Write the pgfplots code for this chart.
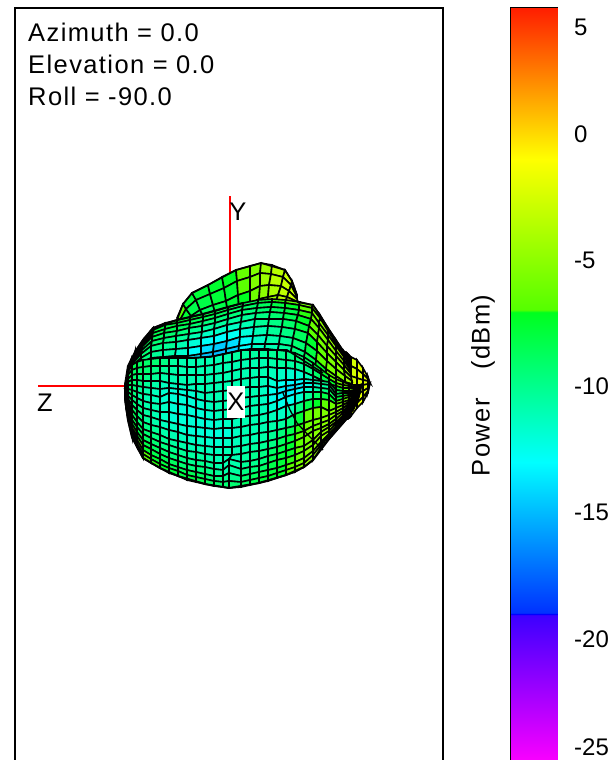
\documentclass[border=0pt]{standalone}
\usepackage{fontspec}
\setmainfont{Liberation Sans}
\usepackage{pgfplots}
\pgfplotsset{compat=1.18}
\newcommand{\lab}{\fontsize{24}{28}\selectfont}
\newcommand{\labs}{\fontsize{25.5}{30}\selectfont\addfontfeature{LetterSpace=5.5}}
\pgfplotsset{
  colormap={ant}{rgb255(0pt)=(255,0,255) rgb255(5.95pt)=(60,0,255) rgb255(6pt)=(0,0,255) rgb255(6.05pt)=(0,50,255) rgb255(12pt)=(0,255,255) rgb255(17.95pt)=(0,255,30) rgb255(18.05pt)=(85,255,0) rgb255(24pt)=(255,255,0) rgb255(30pt)=(255,30,0)},
  pat/.style={surf, shader=faceted, faceted color=black, line width=1.6pt, point meta=explicit},
}
\begin{document}
\begin{tikzpicture}[x=1pt,y=1pt]
\path[use as bounding box] (0,0) rectangle (613,-760);
\begin{axis}[
  at={(15pt,-8pt)}, anchor=north west,
  scale only axis, width=428pt, height=792pt,
  xmin=15, xmax=443, ymin=8, ymax=800, y dir=reverse,
  ticks=none, axis line style={line width=1.4pt},
  colormap name=ant, point meta min=-25, point meta max=5,
]
% red axes
\addplot[red, line width=1.2pt] coordinates {(230,196) (230,275)};
\addplot[red, line width=1.2pt] coordinates {(38,386) (130,386)};
% lobe at the top, behind the body
\addplot[pat, mesh/cols=12] table[row sep=\\, meta=c] {x y c\\
177 318 -6.5\\ 183 304 -6.5\\ 192 293 -8\\ 208 285 -7.5\\ 222 277 -7.5\\ 236 270 -6\\ 250 266 -6\\ 261 263 -5\\ 272 265 -4\\ 285 270 -3\\ 292 281 -3\\ 297 295 -3\\
180 320 -6.5\\ 186 309 -8\\ 196 300 -8\\ 210 294 -7.5\\ 224 288 -7.5\\ 237 281 -7.5\\ 250 277 -6\\ 260 273 -5\\ 271 274 -4\\ 283 277 -3\\ 291 285 -3\\ 297 297 -3\\
183 323 -8\\ 191 316 -8\\ 200 310 -9\\ 213 305 -8\\ 226 301 -8\\ 238 295 -7.5\\ 250 291 -6\\ 260 286 -5\\ 269 285 -4\\ 281 286 -3\\ 289 291 -3\\ 297 299 -3\\
186 326 -8\\ 195 322 -8\\ 205 319 -9\\ 216 316 -9\\ 228 313 -8\\ 239 309 -7.5\\ 250 304 -7.5\\ 259 299 -6\\ 268 297 -5\\ 278 295 -4\\ 287 297 -3\\ 298 302 -3\\
190 330 -8\\ 200 330 -8\\ 210 330 -9\\ 220 330 -9\\ 230 330 -8\\ 240 325 -7.5\\ 250 320 -7.5\\ 258 315 -6\\ 266 310 -5\\ 275 305 -4\\ 285 303 -3\\ 298 304 -3\\
};
% yellow lobe on the right
\addplot[pat, mesh/cols=9] table[row sep=\\, meta=c] {x y c\\
342 350 -4\\ 345 352 -4\\ 347 353 -3\\ 349 355 -3\\ 351 357 -3\\ 357 360 -2\\ 363 368 -2\\ 368 377 -2\\ 370 383 -2\\
342 362 -4\\ 345 363 -4\\ 347 364 -3\\ 349 365 -3\\ 351 366 -3\\ 357 369 -2\\ 363 374 -2\\ 368 379 -2\\ 370 383 -2\\
342 374 -4\\ 345 374 -4\\ 347 375 -3\\ 349 375 -3\\ 351 376 -3\\ 357 378 -2\\ 363 380 -2\\ 368 381 -2\\ 370 383 -2\\
342 385 -4\\ 345 385 -4\\ 347 385 -3\\ 349 385 -3\\ 351 385 -3\\ 357 385 -2\\ 363 385 -2\\ 368 384 -2\\ 370 383 -2\\
342 396 -4\\ 345 396 -4\\ 347 396 -3\\ 349 396 -3\\ 351 395 -3\\ 357 394 -2\\ 363 391 -2\\ 368 388 -2\\ 370 383 -2\\
342 407 -4\\ 345 407 -4\\ 347 407 -3\\ 349 406 -3\\ 351 405 -3\\ 357 403 -2\\ 363 397 -2\\ 368 391 -2\\ 370 383 -2\\
342 420 -4\\ 345 419 -4\\ 347 419 -3\\ 349 418 -3\\ 351 416 -3\\ 357 408 -2\\ 363 402 -2\\ 368 393 -2\\ 370 383 -2\\
};
% dark bulge on the left
\addplot[pat, mesh/cols=6] table[row sep=\\, meta=c] {x y c\\
127 378 -8\\ 129 366 -8\\ 131 360 -8\\ 133 358 -8\\ 136 355 -8\\ 139 352 -8\\
127 382 -8\\ 129 374 -8\\ 131 370 -8\\ 133 368 -8\\ 136 366 -8\\ 139 364 -8\\
127 385 -8\\ 129 380 -8\\ 131 378 -8\\ 133 376 -8\\ 136 375 -8\\ 139 374 -8\\
127 388 -8\\ 129 386 -8\\ 131 385 -8\\ 133 384 -8\\ 136 384 -8\\ 139 384 -8\\
};
% upper part of the body
\addplot[pat, mesh/cols=21] table[row sep=\\, meta=c] {x y c\\
130 372 -6.5\\ 135 352 -6.5\\ 143 340 -6.5\\ 153 328 -6.5\\ 165 323 -6.5\\ 177 320 -6.5\\ 190 317 -6.5\\ 203 314 -8\\ 215 311 -8\\ 228 307 -8\\ 243 303 -8\\ 258 300 -8\\ 272 299 -6.5\\ 286 300 -6\\ 300 302 -6\\ 313 305 -5\\ 320 315 -5\\ 328 328 -4\\ 336 340 -4\\ 344 352 -4\\ 351 366 -4\\
130 372 -6.5\\ 135 353 -6.5\\ 143 342 -6.5\\ 153 330 -7.5\\ 165 325 -8\\ 177 323 -8\\ 190 320 -8\\ 203 317 -8\\ 215 314 -8\\ 228 310 -9\\ 243 306 -9\\ 258 303 -9\\ 272 302 -8\\ 285 303 -7.5\\ 299 305 -6.5\\ 312 308 -6\\ 320 318 -5\\ 328 331 -4\\ 336 343 -4\\ 344 354 -4\\ 351 367 -4\\
130 373 -6.5\\ 135 355 -7.5\\ 143 344 -8\\ 153 333 -8\\ 165 329 -8\\ 177 326 -8\\ 190 324 -9\\ 203 321 -9\\ 215 318 -9\\ 228 314 -9\\ 242 310 -9\\ 257 308 -9\\ 271 307 -9\\ 285 308 -8\\ 299 310 -7.5\\ 312 313 -6\\ 319 323 -5\\ 328 335 -5\\ 336 346 -4\\ 344 357 -4\\ 351 369 -4\\
130 374 -7.5\\ 135 357 -8\\ 142 347 -8\\ 152 337 -8\\ 164 333 -9\\ 177 331 -9\\ 189 328 -9\\ 202 326 -10\\ 215 323 -10\\ 228 319 -10\\ 242 315 -10\\ 256 313 -10\\ 270 312 -9\\ 284 313 -9\\ 298 315 -8\\ 311 319 -6.5\\ 319 328 -6\\ 328 340 -5\\ 336 351 -5\\ 344 361 -4\\ 351 371 -4\\
129 375 -7.5\\ 134 359 -8\\ 142 350 -8\\ 152 341 -9\\ 164 338 -9\\ 176 336 -10\\ 189 334 -10\\ 202 332 -11\\ 214 329 -11\\ 227 325 -11\\ 241 322 -11\\ 255 319 -10\\ 269 319 -10\\ 283 319 -9\\ 296 321 -8\\ 309 326 -6.5\\ 318 335 -6\\ 327 346 -5\\ 336 356 -5\\ 344 365 -4\\ 351 374 -4\\
129 376 -8\\ 134 362 -8\\ 141 354 -9\\ 151 346 -9\\ 163 343 -10\\ 176 342 -10\\ 188 340 -11\\ 201 338 -12\\ 214 336 -12\\ 227 332 -12\\ 240 329 -12\\ 254 327 -11\\ 268 326 -10\\ 282 327 -10\\ 295 329 -9\\ 308 333 -8\\ 317 342 -6.5\\ 327 353 -6\\ 336 362 -5\\ 344 370 -5\\ 351 377 -4\\
129 377 -8\\ 134 365 -8\\ 141 358 -9\\ 151 352 -10\\ 163 350 -10\\ 176 349 -11\\ 188 348 -12\\ 201 346 -13\\ 214 344 -14\\ 227 341 -14\\ 240 337 -13\\ 253 336 -12\\ 267 335 -11\\ 280 336 -10\\ 293 338 -10\\ 306 343 -8\\ 317 351 -7.5\\ 327 361 -6\\ 336 369 -5\\ 345 376 -5\\ 352 381 -4\\
128 379 -8\\ 133 368 -9\\ 141 363 -9\\ 151 358 -10\\ 163 357 -11\\ 175 356 -11\\ 188 356 -13\\ 201 354 -14\\ 213 352 -15\\ 226 349 -15\\ 239 346 -14\\ 252 344 -12\\ 265 344 -11\\ 279 344 -11\\ 292 346 -10\\ 305 352 -9\\ 316 360 -7.5\\ 326 369 -6\\ 336 376 -6\\ 345 382 -5\\ 352 384 -4\\
128 380 -8\\ 133 372 -9\\ 140 368 -10\\ 150 365 -10\\ 162 364 -11\\ 175 364 -12\\ 187 364 -13\\ 200 363 -15\\ 213 361 -15\\ 226 358 -15\\ 238 355 -14\\ 251 354 -12\\ 264 354 -11\\ 277 354 -11\\ 290 356 -10\\ 303 362 -9\\ 315 370 -8\\ 326 378 -7.5\\ 336 384 -6\\ 345 388 -5\\ 352 388 -5\\
};
% front part of the body
\addplot[pat, mesh/cols=34] table[row sep=\\, meta=c] {x y c\\
125 385 -8\\ 126 380 -8\\ 128 372 -8\\ 132 365 -8\\ 137 362 -8\\ 143 360 -9\\ 151 359 -9\\ 160 358 -9\\ 169 358 -10\\ 178 358 -11\\ 187 358 -11\\ 196 358 -11\\ 205 357 -11\\ 214 356 -11\\ 223 354 -11\\ 232 352 -10\\ 241 350 -10\\ 250 349 -10\\ 259 349 -10\\ 268 349 -10\\ 277 350 -10\\ 286 351 -10\\ 295 353 -9\\ 304 357 -9\\ 313 363 -8\\ 321 369 -7.5\\ 329 375 -6.5\\ 336 379 -6\\ 343 382 -5\\ 349 384 -5\\ 354 385 -4\\ 358 385 -4\\ 360 385 -4\\ 361 385 -4\\
125 386 -8\\ 126 382 -8\\ 128 375 -8\\ 132 370 -8\\ 137 368 -9\\ 143 367 -9\\ 151 366 -9\\ 160 366 -10\\ 169 366 -10\\ 178 366 -11\\ 187 367 -11\\ 196 367 -11\\ 205 366 -11\\ 214 365 -11\\ 223 363 -11\\ 232 362 -11\\ 241 360 -11\\ 250 359 -11\\ 259 358 -11\\ 268 358 -11\\ 277 359 -10\\ 286 360 -10\\ 295 361 -10\\ 304 364 -9\\ 313 369 -9\\ 321 374 -8\\ 329 379 -7.5\\ 336 383 -6.5\\ 343 385 -6\\ 349 386 -5\\ 354 387 -4\\ 358 386 -4\\ 360 385 -4\\ 361 385 -4\\
125 387 -8\\ 126 384 -8\\ 128 379 -8\\ 132 375 -9\\ 137 374 -9\\ 143 374 -9\\ 151 374 -10\\ 160 373 -10\\ 169 374 -11\\ 178 375 -11\\ 187 375 -11\\ 196 375 -11\\ 205 375 -11\\ 214 374 -11\\ 223 373 -11\\ 232 371 -11\\ 241 369 -11\\ 250 368 -11\\ 259 368 -11\\ 268 367 -11\\ 277 368 -11\\ 286 368 -11\\ 295 369 -11\\ 304 372 -11\\ 313 376 -10\\ 321 380 -9\\ 329 384 -8\\ 336 386 -7.5\\ 343 388 -6.5\\ 349 388 -6\\ 354 388 -5\\ 358 387 -4\\ 360 386 -4\\ 361 385 -4\\
125 388 -8\\ 126 386 -8\\ 128 382 -8\\ 132 380 -9\\ 137 380 -9\\ 143 381 -10\\ 151 381 -10\\ 160 381 -11\\ 169 383 -11\\ 178 384 -11\\ 187 385 -11\\ 196 384 -11\\ 205 384 -11\\ 214 383 -11\\ 223 382 -11\\ 232 381 -11\\ 241 379 -11\\ 250 378 -11\\ 259 377 -11\\ 268 377 -11\\ 277 381 -12\\ 286 380 -12\\ 295 380 -13\\ 304 379 -12\\ 313 380 -11\\ 321 381 -10\\ 329 382 -9\\ 336 390 -8\\ 343 391 -7.5\\ 349 391 -7\\ 354 390 -5\\ 358 388 -4\\ 360 386 -4\\ 361 385 -4\\
125 388 -8\\ 126 388 -8\\ 128 385 -9\\ 132 385 -9\\ 137 386 -10\\ 143 387 -10\\ 151 388 -11\\ 160 389 -11\\ 169 388 -12\\ 178 389 -12\\ 187 390 -12\\ 196 391 -11\\ 205 393 -11\\ 214 392 -11\\ 223 391 -11\\ 232 390 -11\\ 241 388 -11\\ 250 387 -11\\ 259 387 -11\\ 268 386 -12\\ 277 388 -13\\ 286 386 -14\\ 295 385 -14\\ 304 383 -13\\ 313 383 -12\\ 321 384 -11\\ 329 385 -10\\ 336 394 -9\\ 343 393 -8\\ 349 393 -7\\ 354 391 -5\\ 358 389 -4\\ 360 387 -4\\ 361 385 -4\\
125 389 -8\\ 126 390 -8\\ 128 389 -9\\ 132 390 -9\\ 137 392 -10\\ 143 394 -11\\ 151 395 -11\\ 160 397 -12\\ 169 393 -12\\ 178 394 -12\\ 187 396 -12\\ 196 399 -12\\ 205 401 -11\\ 214 402 -11\\ 223 401 -11\\ 232 400 -11\\ 241 398 -11\\ 250 397 -11\\ 259 396 -11\\ 268 395 -12\\ 277 394 -13\\ 286 391 -14\\ 295 389 -14\\ 304 387 -13\\ 313 387 -12\\ 321 388 -11\\ 329 389 -10\\ 336 397 -9\\ 343 396 -8\\ 349 395 -6\\ 354 393 -5\\ 358 390 -4\\ 360 387 -4\\ 361 385 -4\\
125 390 -8\\ 126 392 -8\\ 128 392 -9\\ 132 395 -9\\ 137 398 -10\\ 143 401 -11\\ 151 403 -11\\ 160 404 -11\\ 169 402 -12\\ 178 404 -12\\ 187 405 -12\\ 196 408 -12\\ 205 410 -12\\ 214 411 -11\\ 223 410 -11\\ 232 409 -11\\ 241 408 -11\\ 250 406 -11\\ 259 405 -11\\ 268 404 -12\\ 277 401 -13\\ 286 397 -13\\ 295 394 -13\\ 304 392 -12\\ 313 392 -10\\ 321 392 -9\\ 329 394 -8\\ 336 401 -7.5\\ 343 399 -6.5\\ 349 397 -6\\ 354 395 -5\\ 358 391 -4\\ 360 388 -4\\ 361 385 -4\\
125 391 -8\\ 126 394 -8\\ 128 396 -9\\ 132 400 -9\\ 137 404 -10\\ 143 408 -10\\ 151 410 -11\\ 160 412 -11\\ 169 412 -12\\ 178 414 -12\\ 187 415 -12\\ 196 417 -12\\ 205 419 -12\\ 214 420 -12\\ 223 419 -11\\ 232 419 -11\\ 241 417 -11\\ 250 416 -11\\ 259 415 -11\\ 268 413 -11\\ 277 410 -12\\ 286 406 -12\\ 295 404 -12\\ 304 401 -10\\ 313 399 -9\\ 321 399 -8\\ 329 400 -7.5\\ 336 404 -6.5\\ 343 402 -6\\ 349 400 -5\\ 354 396 -5\\ 358 392 -4\\ 360 388 -4\\ 361 385 -4\\
125 392 -6.5\\ 126 396 -8\\ 128 399 -8\\ 132 405 -9\\ 137 410 -9\\ 143 415 -10\\ 151 417 -11\\ 160 420 -11\\ 169 422 -12\\ 178 424 -12\\ 187 426 -12\\ 196 427 -12\\ 205 428 -12\\ 214 429 -12\\ 223 428 -12\\ 232 428 -12\\ 241 427 -11\\ 250 425 -11\\ 259 424 -11\\ 268 422 -11\\ 277 421 -11\\ 286 419 -11\\ 295 414 -9\\ 304 411 -7.5\\ 313 408 -6\\ 321 407 -6\\ 329 411 -5.5\\ 336 408 -5\\ 343 405 -5\\ 349 402 -5\\ 354 398 -4\\ 358 393 -4\\ 360 389 -4\\ 361 385 -4\\
125 393 -6.5\\ 126 398 -6.5\\ 128 402 -8\\ 132 410 -8\\ 137 416 -9\\ 143 422 -10\\ 151 425 -10\\ 160 427 -11\\ 169 430 -11\\ 178 432 -11\\ 187 435 -12\\ 196 436 -12\\ 205 437 -12\\ 214 438 -12\\ 223 438 -12\\ 232 438 -12\\ 241 436 -11\\ 250 435 -11\\ 259 433 -11\\ 268 432 -11\\ 277 430 -10\\ 286 428 -10\\ 295 426 -8\\ 304 423 -6.5\\ 313 420 -6\\ 321 418 -5.5\\ 329 415 -5\\ 336 412 -5\\ 343 408 -5\\ 349 404 -5\\ 354 399 -4\\ 358 394 -4\\ 360 389 -4\\ 361 385 -4\\
125 393 -6.5\\ 126 400 -6.5\\ 128 406 -8\\ 132 415 -8\\ 137 422 -9\\ 143 429 -9\\ 151 432 -10\\ 160 435 -10\\ 169 439 -11\\ 178 441 -11\\ 187 443 -11\\ 196 445 -11\\ 205 446 -11\\ 214 447 -12\\ 223 447 -11\\ 232 447 -11\\ 241 446 -11\\ 250 444 -11\\ 259 443 -11\\ 268 441 -10\\ 277 439 -10\\ 286 436 -8\\ 295 434 -7.5\\ 304 431 -6\\ 313 426 -6\\ 321 423 -5.5\\ 329 420 -5\\ 336 415 -5\\ 343 411 -4.5\\ 349 406 -4\\ 354 401 -4\\ 358 396 -4\\ 360 390 -4\\ 361 385 -4\\
125 394 -6.5\\ 126 401 -6.5\\ 128 408 -6.5\\ 132 420 -7.5\\ 137 427 -8\\ 143 434 -9\\ 151 438 -9\\ 160 442 -10\\ 169 445 -10\\ 178 448 -10\\ 187 451 -11\\ 196 452 -11\\ 205 454 -11\\ 214 455 -11\\ 223 455 -11\\ 232 455 -11\\ 241 454 -11\\ 250 452 -10\\ 259 451 -10\\ 268 449 -10\\ 277 447 -9\\ 286 444 -8\\ 295 441 -7.5\\ 304 437 -6\\ 313 431 -6\\ 321 428 -5\\ 329 424 -5\\ 336 419 -5\\ 343 413 -4.5\\ 349 408 -4\\ 354 402 -4\\ 358 396 -4\\ 360 390 -4\\ 361 385 -4\\
125 395 -6.5\\ 126 403 -6.5\\ 128 411 -6.5\\ 132 424 -6.5\\ 137 432 -7.5\\ 143 440 -8\\ 151 444 -9\\ 160 448 -9\\ 169 452 -10\\ 178 455 -10\\ 187 458 -10\\ 196 460 -10\\ 205 461 -10\\ 214 463 -11\\ 223 463 -11\\ 229 459 -11\\ 241 462 -11\\ 250 461 -10\\ 259 459 -10\\ 268 456 -9\\ 277 454 -8\\ 286 451 -7.5\\ 295 448 -7\\ 304 446 -6\\ 313 440 -5\\ 321 432 -5\\ 329 427 -5\\ 336 422 -4.5\\ 343 416 -4\\ 349 410 -4\\ 354 404 -4\\ 358 397 -4\\ 360 391 -4\\ 361 385 -4\\
125 395 -6\\ 126 404 -6\\ 128 414 -6.5\\ 132 428 -6.5\\ 137 436 -6.5\\ 143 445 -7.5\\ 151 449 -8\\ 160 454 -9\\ 169 458 -9\\ 178 461 -9\\ 187 464 -10\\ 196 466 -10\\ 205 467 -10\\ 214 469 -10\\ 223 470 -11\\ 229 465 -11\\ 241 469 -10\\ 250 467 -10\\ 259 466 -10\\ 268 463 -9\\ 277 460 -8\\ 286 458 -7.5\\ 295 455 -7\\ 304 451 -6\\ 313 445 -5\\ 321 436 -5\\ 329 431 -4.5\\ 336 424 -4\\ 343 418 -4\\ 349 412 -4\\ 354 405 -4\\ 358 398 -4\\ 360 391 -4\\ 361 385 -4\\
125 396 -6\\ 126 406 -6\\ 128 416 -6\\ 132 431 -6.5\\ 137 440 -6.5\\ 143 450 -6.5\\ 151 455 -8\\ 160 459 -8\\ 169 464 -8\\ 178 467 -9\\ 187 470 -9\\ 196 472 -9\\ 205 474 -9\\ 214 476 -10\\ 223 476 -10\\ 229 473 -11\\ 241 476 -10\\ 250 474 -9\\ 259 472 -9\\ 268 470 -8\\ 277 468 -8\\ 286 465 -7.5\\ 295 462 -6\\ 304 458 -6\\ 313 451 -5\\ 321 442 -5\\ 329 434 -4.5\\ 336 427 -4\\ 343 420 -4\\ 349 413 -4\\ 354 406 -4\\ 358 399 -4\\ 360 391 -4\\ 361 385 -4\\
125 397 -6\\ 126 407 -6\\ 128 418 -6\\ 132 434 -6\\ 137 444 -6.5\\ 143 454 -6.5\\ 151 459 -6.5\\ 160 464 -7.5\\ 169 468 -8\\ 178 471 -8\\ 187 475 -8\\ 196 477 -8\\ 205 479 -9\\ 214 481 -9\\ 223 482 -9\\ 229 481 -10\\ 241 482 -9\\ 250 480 -9\\ 259 478 -8\\ 268 476 -8\\ 277 473 -7.5\\ 286 470 -7\\ 295 467 -6\\ 304 463 -5\\ 313 455 -5\\ 321 445 -4.5\\ 329 436 -4\\ 336 429 -4\\ 343 421 -4\\ 349 415 -4\\ 354 407 -4\\ 358 399 -4\\ 360 392 -4\\ 361 385 -4\\
125 397 -5\\ 126 408 -6\\ 128 420 -6\\ 132 437 -6\\ 137 447 -6\\ 143 458 -6.5\\ 151 463 -7\\ 160 468 -7\\ 169 473 -7\\ 178 476 -8\\ 187 480 -8\\ 196 482 -8\\ 205 484 -8\\ 214 486 -9\\ 223 487 -9\\ 229 488 -9\\ 241 487 -9\\ 250 485 -8\\ 259 483 -8\\ 268 481 -7.5\\ 277 478 -7\\ 286 475 -7\\ 295 472 -6\\ 304 467 -5\\ 313 460 -5\\ 321 448 -4.5\\ 329 439 -4\\ 336 431 -4\\ 343 423 -4\\ 349 416 -4\\ 354 408 -4\\ 358 400 -4\\ 360 392 -4\\ 361 385 -4\\
};
% heavier outline and creases
\addplot[black, line width=2pt] coordinates {(125,397) (128,420) (132,437) (143,458) (160,468) (178,476) (205,484) (229,488) (259,483) (286,475) (304,467) (313,460) (329,439) (343,423) (349,416)};
\addplot[black, line width=2pt] coordinates {(125,397) (125,385) (128,366) (135,352) (143,340) (153,328) (177,320) (203,314) (228,307) (243,303)};
\addplot[black, line width=1.6pt] coordinates {(177,320) (183,304) (192,293) (208,285) (236,270) (261,263) (285,270) (292,281) (297,295)};
\addplot[black, line width=1.6pt] coordinates {(297,302) (313,305) (320,315) (328,328) (344,352) (351,358)};
\addplot[black, line width=1.3pt] coordinates {(283,393) (290,410) (297,423) (310,437) (323,450)};
\addplot[black, line width=1.6pt] coordinates {(180,358) (210,357) (243,350) (287,350) (323,373)};
\node[font=\labs, anchor=base west, inner sep=0pt] at (axis cs:28,41.5) {Azimuth = 0.0};
\node[font=\labs, anchor=base west, inner sep=0pt] at (axis cs:28,73) {Elevation = 0.0};
\node[font=\labs, anchor=base west, inner sep=0pt] at (axis cs:28,105) {Roll = -90.0};
\node[font=\labs, anchor=center, inner sep=0pt] at (axis cs:238,212) {Y};
\node[font=\labs, anchor=center, inner sep=0pt] at (axis cs:45,403) {Z};
\node[font=\labs, anchor=center, fill=white, minimum width=18pt, minimum height=32pt, inner sep=0pt] at (axis cs:236,402) {X};
\end{axis}
\begin{axis}[
  at={(511pt,-8pt)}, anchor=north west,
  scale only axis, width=46pt, height=757pt,
  xmin=0, xmax=1, ymin=-25, ymax=5,
  xtick=\empty, ytick={4.25,0,-5,-10,-15,-20,-24.3},
  yticklabels={5,0,-5,-10,-15,-20,-25},
  yticklabel pos=right, major tick length=0pt,
  yticklabel style={font=\lab, anchor=west, xshift=17pt, inner sep=0pt},
  axis line style={line width=1.4pt},
  colormap name=ant, point meta min=-25, point meta max=5,
]
\addplot[surf, shader=interp, mesh/cols=2, point meta=explicit] table[row sep=\\, meta=c] {x y c\\
0 -25 -25\\ 1 -25 -25\\
0 -19 -19\\ 1 -19 -19\\
0 -13 -13\\ 1 -13 -13\\
0 -7 -7\\ 1 -7 -7\\
0 -1 -1\\ 1 -1 -1\\
0 5 5\\ 1 5 5\\
};
\end{axis}
\node[font=\labs, rotate=90, inner sep=0pt] at (483,-385.5) {Power\hspace{20pt} (dBm)};
\end{tikzpicture}
\end{document}
